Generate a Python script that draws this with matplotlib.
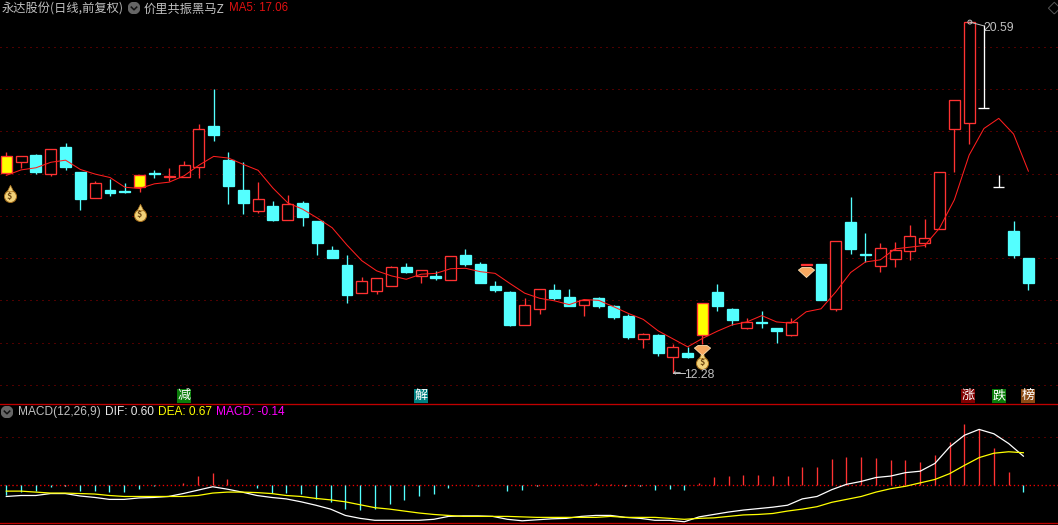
import matplotlib
matplotlib.use("Agg")
import matplotlib.pyplot as plt
from matplotlib.lines import Line2D
from matplotlib.patches import Rectangle
from matplotlib.path import Path

plt.rcParams['font.family'] = ['Noto Sans CJK SC', 'DejaVu Sans']

W, H = 1058, 525

opens = [17.02,17.28,17.44,17.00,17.63,17.04,16.43,16.61,16.59,16.69,17.02,16.92,16.91,17.16,18.13,17.32,16.61,16.12,16.24,15.91,
         16.30,15.88,15.19,14.84,14.18,14.23,14.35,14.79,14.58,14.58,14.49,15.07,14.86,14.34,14.20,13.42,13.80,14.25,14.08,13.90,
         14.06,13.87,13.63,13.09,13.18,12.67,12.75,13.18,14.20,13.80,13.35,13.49,13.35,13.19,14.84,14.86,13.80,15.86,15.10,14.82,
         14.99,15.18,15.37,15.70,18.05,18.21,18.56,16.68,15.64,15.00]
closes = [17.42,17.41,17.04,17.58,17.16,16.40,16.77,16.54,16.57,16.97,16.99,16.95,17.20,18.05,17.92,16.71,16.30,16.39,15.90,16.28,
          15.97,15.36,15.00,14.13,14.46,14.52,14.78,14.67,14.71,14.53,15.04,14.86,14.41,14.25,13.42,13.88,14.26,14.06,13.87,14.01,
          13.87,13.61,13.13,13.20,12.75,12.89,12.66,13.94,13.87,13.54,13.48,13.46,13.27,13.48,14.86,14.01,15.40,15.22,15.07,15.23,
          15.19,15.52,15.47,17.03,18.74,20.59,18.56,16.68,15.07,14.41]
highs = [17.51,17.42,17.46,17.59,17.73,17.04,16.82,16.87,16.78,16.97,17.09,17.14,17.30,18.18,19.00,17.51,17.28,16.80,16.35,16.50,
         16.35,15.88,15.29,15.07,14.55,14.52,14.81,14.89,14.71,14.70,15.04,15.22,14.91,14.46,14.22,14.06,14.26,14.39,14.27,14.03,
         14.08,13.89,13.68,13.23,13.20,12.96,12.89,13.94,14.39,13.82,13.58,13.75,13.35,13.58,14.86,14.86,15.40,16.45,15.60,15.36,
         15.38,15.78,15.93,17.03,18.74,20.59,20.52,16.96,15.88,15.00]
lows = [17.02,17.14,16.99,16.95,17.09,16.14,16.43,16.47,16.54,16.57,16.90,16.83,16.91,16.90,17.77,16.28,16.05,16.07,15.88,15.91,
        15.76,15.07,15.00,13.94,14.18,14.16,14.35,14.65,14.42,14.48,14.49,14.81,14.41,14.20,13.39,13.42,13.68,14.01,13.87,13.63,
        13.82,13.56,13.09,12.87,12.68,12.28,12.64,12.96,13.75,13.42,13.32,13.35,12.99,13.16,14.84,14.01,13.75,15.10,14.91,14.67,
        14.79,14.96,15.27,15.70,17.04,17.70,18.56,16.68,15.00,14.25]
ma5 = [16.96,17.09,17.14,17.27,17.32,17.10,16.99,16.91,16.68,16.65,16.76,16.80,16.95,17.20,17.41,17.37,17.22,17.08,16.66,16.31,
       16.16,15.95,15.72,15.31,14.94,14.70,14.58,14.50,14.62,14.64,14.75,14.76,14.68,14.64,14.40,14.17,14.05,13.99,13.90,14.02,
       14.00,13.85,13.69,13.55,13.28,13.09,12.90,13.10,13.27,13.42,13.49,13.64,13.49,13.46,13.73,13.80,14.20,14.66,14.91,14.96,
       15.22,15.26,15.30,15.71,16.38,17.44,18.07,18.31,17.94,17.06]
yellow_days = [0, 9, 47]
white_days = [66, 67]

dif = [-0.23,-0.21,-0.21,-0.17,-0.17,-0.22,-0.25,-0.29,-0.29,-0.26,-0.25,-0.23,-0.17,-0.10,-0.03,-0.08,-0.14,-0.21,-0.25,-0.28,
       -0.34,-0.41,-0.49,-0.62,-0.68,-0.72,-0.72,-0.72,-0.72,-0.70,-0.64,-0.63,-0.63,-0.64,-0.70,-0.73,-0.71,-0.69,-0.68,-0.64,
       -0.62,-0.62,-0.66,-0.68,-0.72,-0.72,-0.75,-0.65,-0.60,-0.55,-0.51,-0.48,-0.45,-0.41,-0.28,-0.23,-0.09,0.02,0.08,0.16,
       0.19,0.26,0.29,0.45,0.79,1.03,1.15,1.06,0.86,0.60]
dea = [-0.12,-0.12,-0.14,-0.16,-0.16,-0.17,-0.18,-0.21,-0.23,-0.23,-0.23,-0.23,-0.23,-0.21,-0.16,-0.14,-0.14,-0.15,-0.17,-0.21,
       -0.23,-0.27,-0.30,-0.34,-0.40,-0.46,-0.49,-0.53,-0.57,-0.60,-0.62,-0.64,-0.64,-0.64,-0.64,-0.65,-0.66,-0.66,-0.66,-0.66,
       -0.66,-0.64,-0.66,-0.66,-0.66,-0.68,-0.70,-0.68,-0.67,-0.64,-0.61,-0.60,-0.58,-0.53,-0.49,-0.44,-0.35,-0.29,-0.23,-0.14,
       -0.07,-0.02,0.05,0.12,0.24,0.41,0.57,0.66,0.69,0.67]
macd = [-0.20,-0.13,-0.12,-0.03,-0.02,-0.12,-0.12,-0.14,-0.14,-0.07,-0.02,0,0.05,0.19,0.25,0.13,0,-0.05,-0.16,-0.16,
        -0.18,-0.28,-0.34,-0.49,-0.51,-0.48,-0.38,-0.30,-0.22,-0.18,-0.05,0,-0.02,0,-0.12,-0.10,-0.02,0,0,0.03,
        0.05,0.03,0,-0.02,-0.10,-0.08,-0.10,0.05,0.17,0.19,0.21,0.21,0.19,0.19,0.38,0.38,0.54,0.58,0.58,0.56,
        0.52,0.52,0.48,0.62,0.89,1.26,1.16,0.77,0.27,-0.14]
white_ticks = [4, 36, 42, 43]

price_grid = [20, 19, 18, 17, 16, 15, 14, 13, 12]
macd_grid = [1]

bag_points = [(0.22, 16.50), (9, 16.07), (47, 12.56)]
gem_points = [(54, 14.67), (47, 12.82)]
signals = [(12, '减', '#0a7d0a'), (28, '解', '#008080'), (64.9, '涨', '#800000'), (67, '跌', '#0a7d0a'), (69, '榜', '#8b4a14')]

RED, CYAN, YEL, GRID = '#ff3232', '#54ffff', '#ffff00', '#a00000'
GREY = '#c0c0c0'
PX = 0.72
LW = 0.95
crisp = dict(lw=LW, snap=True, solid_capstyle='butt')

fig = plt.figure(figsize=(W / 100, H / 100), dpi=100, facecolor='black')
split = 404
ax = fig.add_axes([0, 1 - split / H, 1, split / H])
ax2 = fig.add_axes([0, 0, 1, 1 - split / H])
for a in (ax, ax2):
    a.set_facecolor('black')
    a.set_xticks([]); a.set_yticks([])
    for s in a.spines.values():
        s.set_visible(False)

# upper panel scales
ax.set_xlim(-0.425, 71.0)
ax.set_ylim(21.113 - split * 0.02368, 21.113)
for g in price_grid:
    ax.axhline(g, color=GRID, lw=PX, ls=(0, (1, 5)), snap=True, zorder=0)

bw = 0.37
for i, (o, h, l, c) in enumerate(zip(opens, highs, lows, closes)):
    top, bot = max(o, c), min(o, c)
    if i in white_days:
        ax.plot([i - bw, i + bw], [o, o], color='white', zorder=2, **crisp)
        ax.plot([i, i], [l, h], color='white', zorder=2, **crisp)
        continue
    col = RED if c >= o else CYAN
    ax.plot([i, i], [top, h], color=col, zorder=2, **crisp)
    ax.plot([i, i], [l, bot], color=col, zorder=2, **crisp)
    if i in yellow_days:
        face = YEL
    elif c >= o:
        face = 'black'
    else:
        face = CYAN
    ax.add_patch(Rectangle((i - bw, bot), 2 * bw, top - bot, facecolor=face, edgecolor=col,
                           lw=LW, snap=True, zorder=3))

ax.plot(range(len(ma5)), ma5, color='#ff1e1e', lw=0.75, zorder=4)

# money bags
for x, y in bag_points:
    ax.scatter([x], [y - 0.04], s=75, color='#f2d27a', edgecolors='#a8701c', linewidths=0.7, zorder=5)
    ax.scatter([x], [y + 0.15], s=22, marker='^', color='#f2d27a', edgecolors='#a8701c', linewidths=0.5, zorder=5)
    ax.text(x, y - 0.04, '$', color='#6b4510', fontsize=6.5, ha='center', va='center', zorder=6, fontweight='bold')

# gems
gem = Path([(-1, 0.3), (-0.55, 0.62), (0.55, 0.62), (1, 0.3), (0, -0.62), (-1, 0.3)],
           [Path.MOVETO, Path.LINETO, Path.LINETO, Path.LINETO, Path.LINETO, Path.CLOSEPOLY])
for x, y in gem_points:
    ax.scatter([x], [y], s=135, marker=gem, color='#f7a860', edgecolors='#ffe0b0', linewidths=0.6, zorder=6)

# signal boxes
for x, t, c in signals:
    ax.text(x, 11.74, t, color='white', fontsize=9.4, ha='center', va='center', zorder=6,
            bbox=dict(boxstyle='square,pad=0.04', facecolor=c, edgecolor='none'))

# extreme labels
ax.plot([65.05, 66], [20.59, 20.50], color=GREY, lw=PX, zorder=7)
ax.text(66.0, 20.44, '20.59', color=GREY, fontsize=8.8, family='Liberation Sans', va='center', ha='left', zorder=7)
ax.scatter([65.05], [20.59], s=8, facecolors='none', edgecolors=GREY, linewidths=0.7, zorder=7)
ax.plot([45, 45.8], [12.28, 12.28], color=GREY, lw=PX, zorder=7)
ax.text(45, 12.275, '←', color=GREY, fontsize=7, family='DejaVu Sans', va='center', ha='left', zorder=7)
ax.text(45.75, 12.24, '12.28', color=GREY, fontsize=8.8, family='Liberation Sans', va='center', ha='left', zorder=7)

# lower panel scales
ax2.set_xlim(-0.427, 71.35)
ax2.set_ylim(-0.817, (485.3 - split) / 48.6)
ax2.axhline(macd_grid[0], color=GRID, lw=PX, ls=(0, (1, 5)), snap=True, zorder=0)
ax2.axhline(0, color='#f00000', lw=LW, ls=(0, (1, 2)), snap=True, zorder=1)
ax2.axhline((485.3 - 523.3) / 48.6, color='#c00000', lw=LW, snap=True, zorder=1)
fig.add_artist(Line2D([0, 1], [1 - 403.5 / H] * 2, color='#c00000', lw=LW, snap=True))

for i, v in enumerate(macd):
    if i in white_ticks:
        ax2.plot([i, i], [0, -0.02], color='white', zorder=2, **crisp)
    elif v != 0:
        ax2.plot([i, i], [0, v], color=RED if v > 0 else CYAN, zorder=2, **crisp)
ax2.plot(range(len(dif)), dif, color='white', lw=0.9, zorder=3)
ax2.plot(range(len(dea)), dea, color=YEL, lw=0.9, zorder=4)

# header texts
def txt(x, y, s, c, fs=9.0, **kw):
    fig.text(x / W, 1 - y / H, s, color=c, fontsize=fs, va='center', ha='left', **kw)

def chevron(x, y):
    ov = fig.add_axes([(x - 6) / W, 1 - (y + 6) / H, 12 / W, 12 / H])
    ov.set_xlim(-1, 1); ov.set_ylim(-1, 1); ov.axis('off')
    ov.add_patch(plt.Circle((0, 0), 0.95, color='#666666'))
    ov.plot([-0.45, 0, 0.45], [0.15, -0.3, 0.15], color='#111111', lw=1.1)

txt(2, 9.5, '永达股份(日线,前复权)', GREY, 8.8)
chevron(134, 8)
txt(144, 9.5, '价里共振黑马Z', GREY, 8.8)
txt(229, 8, 'MA5: 17.06', '#e01010', 8.3, family='Liberation Sans')

chevron(7, 412)
txt(18, 412, 'MACD(12,26,9)', GREY, 8.6, family='Liberation Sans')
txt(105, 412, 'DIF: 0.60', '#e8e8e8', 8.6, family='Liberation Sans')
txt(158, 412, 'DEA: 0.67', YEL, 8.6, family='Liberation Sans')
txt(216, 412, 'MACD: -0.14', '#ff00ff', 8.6, family='Liberation Sans')

# top right outline marker
ax.scatter([70.75], [20.92], s=36, marker='D', facecolors='none', edgecolors='#555555', linewidths=0.7, zorder=7)

fig.savefig('out.png', dpi=100, facecolor='black')
